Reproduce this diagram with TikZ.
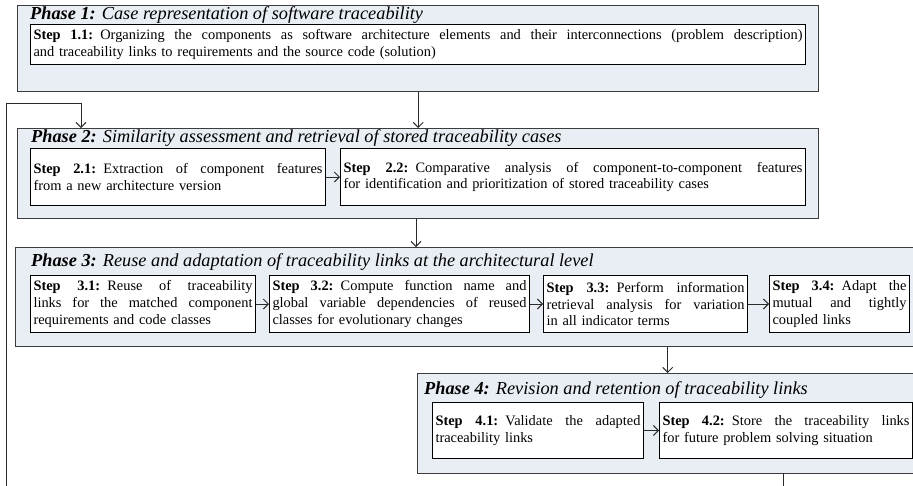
\documentclass[tikz,border=0pt]{standalone}
\usepackage{fontspec}
\setmainfont{Liberation Serif}
\usetikzlibrary{arrows.meta,calc}
\definecolor{phasefill}{HTML}{E9EEF5}
\definecolor{phaseline}{HTML}{3C3C3C}
\definecolor{connline}{HTML}{2B2B2B}
\newcommand{\jl}[1]{\hbox to \hsize{\spaceskip=0.25em plus 1fil minus 0.05em #1}\par}
\begin{document}
\begin{tikzpicture}[x=1pt,y=-1pt,
  phasebox/.style={draw=phaseline, fill=phasefill, line width=1.4pt, inner sep=0pt, anchor=north west},
  stepbox/.style={draw=black, fill=white, line width=1pt, inner xsep=3pt, inner ysep=0pt, anchor=north west, font=\fontsize{14.4}{16.8}\selectfont},
  titletext/.style={anchor=west, inner sep=0pt, font=\fontsize{18.3}{20}\selectfont},
  arr/.style={draw=connline, line width=1pt, -{Straight Barb[length=5pt,width=10pt]}},
  link/.style={draw=connline, line width=1pt}]
\useasboundingbox (0,0) rectangle (913,485);
\clip (0,0) rectangle (913,485);
% Phase boxes
\node[phasebox, minimum width=801pt, minimum height=86pt] (p1) at (17,5) {};
\node[phasebox, minimum width=801pt, minimum height=90pt] (p2) at (17,128) {};
\node[phasebox, minimum width=910pt, minimum height=99pt] (p3) at (15,247) {};
\node[phasebox, minimum width=500pt, minimum height=100pt] (p4) at (417,373) {};
% Titles
\node[titletext] (t1) at (30,15) {\textbf{\textit{Phase 1:}} \textit{Case representation of software traceability}};
\node[titletext] (t2) at (31,138) {\textbf{\textit{Phase 2:}} \textit{Similarity assessment and retrieval of stored traceability cases}};
\node[titletext] (t3) at (31,262) {\textbf{\textit{Phase 3:}} \textit{Reuse and adaptation of traceability links at the architectural level}};
\node[titletext] (t4) at (424,390) {\textbf{\textit{Phase 4:}} \textit{Revision and retention of traceability links}};
% Steps
\node[stepbox, text width=769pt, minimum height=40pt] (s11) at (30,24)
  {\jl{\textbf{Step 1.1:} Organizing the components as software architecture elements and their interconnections (problem description)}and traceability links to requirements and the source code (solution)};
\node[stepbox, text width=289pt, minimum height=57pt] (s21) at (30,148)
  {\jl{\textbf{Step 2.1:} Extraction of component features}from a new architecture version};
\node[stepbox, text width=459pt, minimum height=57pt] (s22) at (340,148)
  {\jl{\textbf{Step 2.2:} Comparative analysis of component-to-component features}for identification and prioritization of stored traceability cases};
\node[stepbox, text width=219pt, minimum height=57pt] (s31) at (30,275)
  {\jl{\textbf{Step 3.1:} Reuse of traceability}\jl{links for the matched component}requirements and code classes};
\node[stepbox, text width=254pt, minimum height=57pt] (s32) at (269,275)
  {\jl{\textbf{Step 3.2:} Compute function name and}\jl{global variable dependencies of reused}classes for evolutionary changes};
\node[stepbox, text width=198pt, minimum height=57pt] (s33) at (543,275)
  {\jl{\textbf{Step 3.3:} Perform information}\jl{retrieval analysis for variation}in all indicator terms};
\node[stepbox, text width=134pt, minimum height=57pt] (s34) at (769,275)
  {\jl{\textbf{Step 3.4:} Adapt the}\jl{mutual and tightly}coupled links};
\node[stepbox, text width=205pt, minimum height=56pt] (s41) at (432,402)
  {\jl{\textbf{Step 4.1:} Validate the adapted}traceability links};
\node[stepbox, text width=247pt, minimum height=56pt] (s42) at (659,402)
  {\jl{\textbf{Step 4.2:} Store the traceability links}for future problem solving situation};
% Connectors
\draw[arr] (p1.south) -- (p2.north);
\draw[arr] (s21) -- (s22);
\coordinate (a23) at (416,218);
\draw[arr] (p2.south -| a23) -- (p3.north -| a23);
\draw[arr] (s31) -- (s32);
\draw[arr] (s32) -- (s33);
\draw[arr] (s33) -- (s34);
\draw[arr] (p4.north |- p3.south) -- (p4.north);
\draw[arr] (s41) -- (s42);
\coordinate (fb0) at (783,473);
\coordinate (fb1) at (6.5,500);
\coordinate (fb2) at (6.5,103);
\coordinate (fb3) at (81,103);
\draw[arr] (fb0) |- (fb1) -- (fb2) -- (fb3) -- (fb3 |- p2.north);
\end{tikzpicture}
\end{document}
